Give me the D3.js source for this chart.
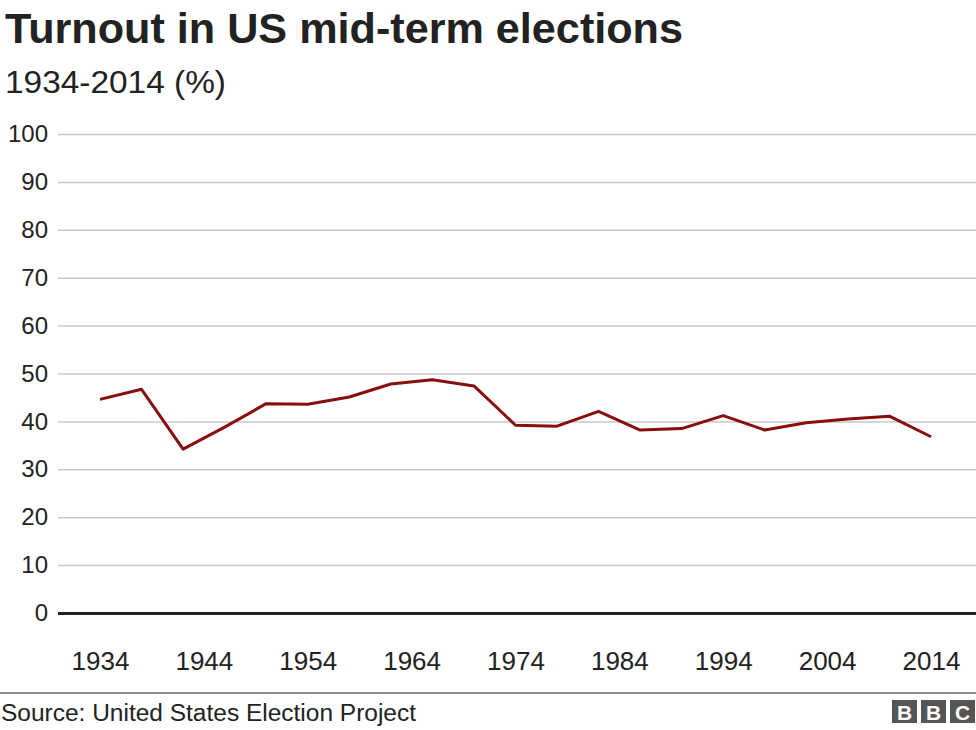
<!DOCTYPE html>
<html>
<head>
<meta charset="utf-8">
<script src="https://cdn.jsdelivr.net/npm/d3@7"></script>
<style>
  body { margin: 0; background: #fff; }
  text { font-family: "Liberation Sans", Arial, sans-serif; }
</style>
</head>
<body>
<div id="chart"></div>
<script>
// mid-term election years and turnout (%)
var years = [1934, 1938, 1942, 1946, 1950, 1954, 1958, 1962, 1966, 1970, 1974,
             1978, 1982, 1986, 1990, 1994, 1998, 2002, 2006, 2010, 2014];
var turnout = [44.6, 46.7, 34.2, 38.8, 43.7, 43.6, 45.1, 47.8, 48.7, 47.4, 39.2,
               39.0, 42.1, 38.2, 38.5, 41.2, 38.2, 39.7, 40.5, 41.1, 36.8];
var xTicks = [1934, 1944, 1954, 1964, 1974, 1984, 1994, 2004, 2014];
var yTicks = [0, 10, 20, 30, 40, 50, 60, 70, 80, 90, 100];

var width = 976, height = 730;

var svg = d3.select('#chart').append('svg')
    .attr('width', width)
    .attr('height', height);

var x = d3.scaleLinear().domain([1934, 2014]).range([100, 931]);
var y = d3.scaleLinear().domain([0, 100]).range([613, 134]);

// titles
svg.append('text')
    .attr('x', 5).attr('y', 43)
    .attr('textLength', 678).attr('lengthAdjust', 'spacingAndGlyphs')
    .style('font-size', '42px').style('font-weight', 'bold').style('fill', '#222')
    .text('Turnout in US mid-term elections');
svg.append('text')
    .attr('x', 5).attr('y', 93)
    .attr('textLength', 221).attr('lengthAdjust', 'spacingAndGlyphs')
    .style('font-size', '32px').style('fill', '#222')
    .text('1934-2014 (%)');

// y grid + labels
var yAxis = d3.axisLeft(y).tickValues(yTicks).tickSize(-(width - 58)).tickPadding(10);
var gy = svg.append('g').attr('transform', 'translate(58,0)').call(yAxis);
gy.select('.domain').remove();
gy.selectAll('.tick line').attr('stroke', '#c8c8c8').attr('stroke-width', 1.5);
gy.selectAll('.tick text')
    .style('font-size', '24px').style('fill', '#222').attr('x', -10);
gy.selectAll('.tick').filter(function (d) { return d === 0; }).select('line')
    .attr('stroke', '#222').attr('stroke-width', 3);

// x axis labels
var xAxis = d3.axisBottom(x).tickValues(xTicks).tickFormat(d3.format('d')).tickSize(0).tickPadding(0);
var gx = svg.append('g').attr('transform', 'translate(0,670)').call(xAxis);
gx.select('.domain').remove();
gx.selectAll('.tick text').attr('dy', 0)
    .style('font-size', '26px').style('fill', '#222');

// line
var line = d3.line()
    .x(function (d, i) { return x(years[i]); })
    .y(function (d) { return y(d); });

svg.append('path')
    .datum(turnout)
    .attr('d', line)
    .attr('fill', 'none')
    .attr('stroke', '#8a0d0d')
    .attr('stroke-width', 3)
    .attr('stroke-linejoin', 'round');

// footer
svg.append('line')
    .attr('x1', 0).attr('x2', width).attr('y1', 693).attr('y2', 693)
    .attr('stroke', '#666').attr('stroke-width', 1.5);
svg.append('text')
    .attr('x', 1).attr('y', 721)
    .attr('textLength', 415).attr('lengthAdjust', 'spacingAndGlyphs')
    .style('font-size', '23px').style('fill', '#222')
    .text('Source: United States Election Project');

var logo = svg.append('g').attr('transform', 'translate(892,700)');
['B', 'B', 'C'].forEach(function (l, i) {
  logo.append('rect')
      .attr('x', i * 29).attr('y', 0).attr('width', 25).attr('height', 23)
      .attr('fill', '#555');
  logo.append('text')
      .attr('x', i * 29 + 12.5).attr('y', 19.5)
      .attr('text-anchor', 'middle')
      .style('font-size', '21px').style('font-weight', 'bold').style('fill', '#fff')
      .text(l);
});
</script>
</body>
</html>
